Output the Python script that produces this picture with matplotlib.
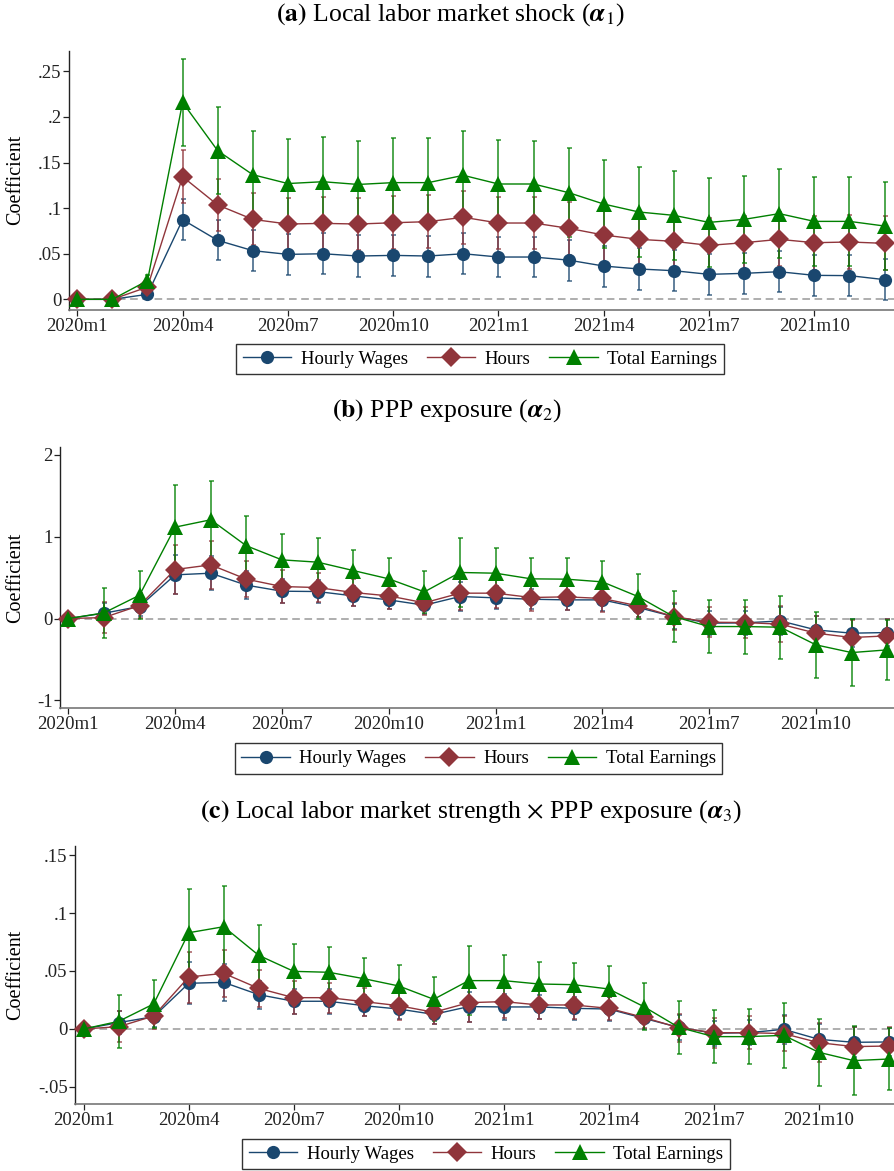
import numpy as np
import matplotlib.pyplot as plt

plt.rcParams['font.family'] = ['Liberation Serif', 'DejaVu Serif']
plt.rcParams['mathtext.fontset'] = 'stix'

# monthly event-study coefficients, 2020m1 .. 2021m12
months = [f"{y}m{m}" for y in (2020, 2021) for m in range(1, 13)]
tick_months = ["2020m1", "2020m4", "2020m7", "2020m10", "2021m1", "2021m4", "2021m7", "2021m10"]

# (a) local labor market shock
wage_a = [0, 0, 0.0055, 0.0874, 0.0647, 0.0534, 0.0493, 0.0500, 0.0475, 0.0482, 0.0475, 0.0500,
          0.0464, 0.0464, 0.0430, 0.0365, 0.0333, 0.0314, 0.0274, 0.0285, 0.0303, 0.0263, 0.0260, 0.0216]
wage_a_ci = [0, 0, 0.004, 0.0225, 0.022, 0.0225, 0.0228, 0.0225, 0.0228, 0.0226, 0.0225, 0.0225,
             0.0224, 0.0224, 0.0226, 0.0225, 0.0227, 0.0225, 0.0228, 0.0228, 0.0228, 0.0228, 0.0228, 0.0228]
hours_a = [0, 0, 0.0135, 0.1345, 0.1035, 0.0877, 0.0826, 0.0833, 0.0826, 0.0840, 0.0852, 0.0900,
           0.0837, 0.0837, 0.0779, 0.0705, 0.0658, 0.0636, 0.0592, 0.0621, 0.0658, 0.0621, 0.0629, 0.0614]
hours_a_ci = [0, 0, 0.005, 0.029, 0.029, 0.0285, 0.0285, 0.029, 0.0285, 0.029, 0.029, 0.029,
              0.0288, 0.029, 0.029, 0.0293, 0.0293, 0.029, 0.0295, 0.0295, 0.0295, 0.0295, 0.0295, 0.0295]
earn_a = [0, 0, 0.0205, 0.216, 0.163, 0.1367, 0.127, 0.129, 0.126, 0.128, 0.128, 0.136,
          0.1265, 0.1265, 0.117, 0.1045, 0.0958, 0.0921, 0.0844, 0.0877, 0.094, 0.0855, 0.0855, 0.0804]
earn_a_ci = [0, 0, 0.006, 0.048, 0.048, 0.048, 0.0485, 0.0486, 0.048, 0.0485, 0.049, 0.049,
             0.0485, 0.0475, 0.0486, 0.0485, 0.049, 0.0486, 0.0486, 0.048, 0.0485, 0.0485, 0.049, 0.0486]

# (b) PPP exposure
wage_b = [0, 0.065, 0.147, 0.534, 0.554, 0.408, 0.334, 0.330, 0.277, 0.228, 0.163, 0.269,
          0.253, 0.236, 0.228, 0.228, 0.135, 0.024, -0.057, -0.053, -0.029, -0.139, -0.179, -0.171]
wage_b_ci = [0, 0.13, 0.12, 0.24, 0.21, 0.17, 0.15, 0.14, 0.12, 0.11, 0.11, 0.18,
             0.14, 0.12, 0.12, 0.13, 0.12, 0.15, 0.145, 0.15, 0.17, 0.17, 0.17, 0.17]
hours_b = [0, 0.012, 0.159, 0.599, 0.656, 0.481, 0.391, 0.379, 0.318, 0.277, 0.192, 0.31,
           0.31, 0.257, 0.265, 0.245, 0.155, 0.024, -0.045, -0.049, -0.069, -0.179, -0.232, -0.212]
hours_b_ci = [0, 0.19, 0.15, 0.295, 0.29, 0.22, 0.2, 0.18, 0.16, 0.155, 0.15, 0.21,
              0.18, 0.16, 0.165, 0.16, 0.14, 0.17, 0.185, 0.19, 0.22, 0.21, 0.21, 0.21]
earn_b = [0, 0.069, 0.285, 1.117, 1.207, 0.889, 0.717, 0.689, 0.587, 0.485, 0.326, 0.563,
          0.554, 0.485, 0.481, 0.448, 0.269, 0.024, -0.098, -0.098, -0.106, -0.322, -0.416, -0.383]
earn_b_ci = [0, 0.31, 0.29, 0.51, 0.47, 0.36, 0.32, 0.30, 0.25, 0.26, 0.26, 0.42,
             0.31, 0.26, 0.26, 0.26, 0.27, 0.31, 0.32, 0.33, 0.385, 0.40, 0.41, 0.37]

# (c) local labor market strength x PPP exposure
wage_c = [0, 0.0055, 0.0106, 0.0394, 0.0402, 0.0296, 0.0239, 0.0239, 0.0201, 0.0172, 0.0126, 0.0193,
          0.019, 0.019, 0.0178, 0.0172, 0.0092, 0.0014, -0.0037, -0.0032, -0.0003, -0.0089, -0.0115, -0.0112]
wage_c_ci = [0, 0.010, 0.009, 0.018, 0.016, 0.012, 0.011, 0.011, 0.009, 0.009, 0.008, 0.013,
             0.011, 0.010, 0.010, 0.010, 0.009, 0.011, 0.011, 0.011, 0.0125, 0.013, 0.013, 0.012]
hours_c = [0, 0.002, 0.0112, 0.0448, 0.048, 0.035, 0.027, 0.027, 0.0236, 0.0201, 0.0144, 0.0227,
           0.0236, 0.0207, 0.0207, 0.0178, 0.010, 0.0011, -0.0032, -0.0032, -0.004, -0.0118, -0.0152, -0.0147]
hours_c_ci = [0, 0.0135, 0.011, 0.022, 0.0205, 0.016, 0.0145, 0.013, 0.012, 0.012, 0.010, 0.017,
              0.014, 0.012, 0.012, 0.010, 0.009, 0.012, 0.013, 0.014, 0.015, 0.017, 0.017, 0.016]
earn_c = [0, 0.0066, 0.0216, 0.083, 0.0882, 0.0635, 0.0497, 0.0489, 0.0434, 0.0371, 0.0256, 0.0417,
          0.0417, 0.0388, 0.0382, 0.0345, 0.0193, 0.0014, -0.0066, -0.0066, -0.0055, -0.0201, -0.0273, -0.0259]
earn_c_ci = [0, 0.023, 0.021, 0.038, 0.035, 0.026, 0.024, 0.022, 0.018, 0.018, 0.019, 0.0296,
             0.022, 0.019, 0.019, 0.0195, 0.020, 0.023, 0.023, 0.024, 0.028, 0.029, 0.030, 0.027]

NAVY, MAROON, GREEN = '#1a476f', '#90353b', '#008000'


def fmt_stata(v):
    # Stata-style labels: .25, -.05, 0, 1
    if abs(v) < 1e-12:
        return '0'
    if float(v).is_integer():
        return str(int(v))
    s = f"{v:g}"
    return s.replace('0.', '.')


def draw_panel(ax, series, yticks, ylim, xlim, ylabel_x):
    x = np.arange(len(months))
    styles = [('Hourly Wages', NAVY, 'o', 9.5),
              ('Hours', MAROON, 'D', 10),
              ('Total Earnings', GREEN, '^', 11)]
    ax.axhline(0, color='#999999', linestyle=(0, (5, 3)), linewidth=1.1, zorder=1)
    for (label, color, marker, ms), (vals, ci) in zip(styles, series):
        vals = np.array(vals)
        ci = np.array(ci)
        ax.errorbar(x, vals, yerr=ci, fmt='none', ecolor=color, elinewidth=1.3,
                    capsize=1.8, capthick=1.2, alpha=0.75, zorder=2, clip_on=False)
        ax.plot(x, vals, color=color, linewidth=1.0, marker=marker, markersize=ms,
                markeredgewidth=0, label=label, zorder=3, clip_on=False)
    ax.set_xlim(*xlim)
    ax.set_ylim(*ylim)
    ax.set_xticks([months.index(m) for m in tick_months])
    ax.set_xticklabels(tick_months)
    ax.set_yticks(yticks)
    ax.set_yticklabels([fmt_stata(v) for v in yticks])
    ax.tick_params(axis='both', labelsize=13.5, length=4, width=0.9, pad=1.5, colors='#222222')
    for side in ('top', 'right'):
        ax.spines[side].set_visible(False)
    ax.spines['left'].set_color('#222222')
    ax.spines['bottom'].set_color('#777777')
    ax.spines['left'].set_linewidth(1.0)
    ax.spines['bottom'].set_linewidth(1.2)
    ax.set_ylabel('Coefficient', fontsize=14.5)
    ax.yaxis.set_label_coords(ylabel_x, 0.5)


W, H = 894, 1171
fig = plt.figure(figsize=(W / 100, H / 100), dpi=100)


def px_axes(left, top, bottom):
    return fig.add_axes([left / W, 1 - bottom / H, 1 - left / W, (bottom - top) / H])


ax_a = px_axes(69.3, 50.7, 310)
ax_b = px_axes(60.3, 446.7, 708.3)
ax_c = px_axes(75.3, 846, 1104)

draw_panel(ax_a, [(wage_a, wage_a_ci), (hours_a, hours_a_ci), (earn_a, earn_a_ci)],
           [0, 0.05, 0.1, 0.15, 0.2, 0.25], (-0.0117, 0.2727), (-0.228, 23.27), -0.0537)
draw_panel(ax_b, [(wage_b, wage_b_ci), (hours_b, hours_b_ci), (earn_b, earn_b_ci)],
           [-1, 0, 1, 2], (-1.097, 2.10), (-0.225, 23.19), -0.0423)
draw_panel(ax_c, [(wage_c, wage_c_ci), (hours_c, hours_c_ci), (earn_c, earn_c_ci)],
           [-0.05, 0, 0.05, 0.1, 0.15], (-0.0647, 0.1578), (-0.24, 23.15), -0.0614)

titles = [(r'$\mathbf{(a)}$ Local labor market shock ($\boldsymbol{\alpha}_1$)', 450, 15),
          (r'$\mathbf{(b)}$ PPP exposure ($\boldsymbol{\alpha}_2$)', 447, 411),
          (r'$\mathbf{(c)}$ Local labor market strength $\times$ PPP exposure ($\boldsymbol{\alpha}_3$)', 471, 812)]
for text, xpix, ypix in titles:
    fig.text(xpix / W, 1 - ypix / H, text, ha='center', va='center', fontsize=18.5)

legend_pos = [(ax_a, 480, 359), (ax_b, 478.5, 758.5), (ax_c, 486, 1154)]
for ax, cx, cy in legend_pos:
    ax.legend(loc='center', bbox_to_anchor=(cx / W, 1 - cy / H), bbox_transform=fig.transFigure,
              ncol=3, fontsize=13.5, frameon=True, fancybox=False, edgecolor='#333333',
              handlelength=2.6, columnspacing=1.0, handletextpad=0.5, borderpad=0.35,
              framealpha=1)

fig.savefig('out.png', dpi=100)
